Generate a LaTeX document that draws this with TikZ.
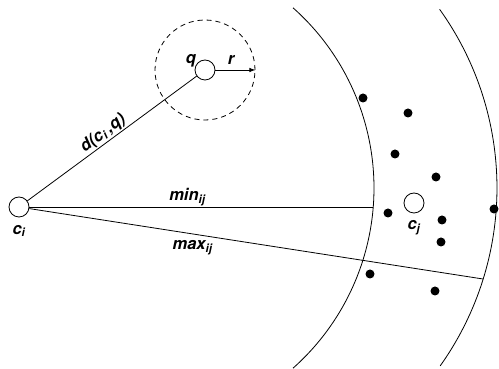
\documentclass[tikz,border=0pt]{standalone}
\usepackage{fontspec}
\setsansfont{TeX Gyre Heros}
\usetikzlibrary{arrows.meta}
\definecolor{inkcol}{RGB}{0,0,0}
\definecolor{paper}{RGB}{255,255,255}

\begin{document}
\begin{tikzpicture}[
  x=1pt, y=1pt,
  centre/.style={
    draw=inkcol, line width=0.8pt, circle, fill=paper,
    minimum size=20pt, inner sep=0pt
  },
  ball/.style={
    draw=inkcol, line width=0.8pt, circle, dash pattern=on 5pt off 4pt,
    minimum size=100pt, inner sep=0pt
  },
  obj/.style={circle, fill=inkcol, minimum size=9pt, inner sep=0pt},
  lab/.style={font=\sffamily\bfseries\itshape\fontsize{16.5}{18}\selectfont, text=inkcol, inner sep=1pt},
  edge/.style={draw=inkcol, line width=0.8pt},
  ray/.style={draw=inkcol, line width=0.8pt, -{Latex[length=6pt,width=4.5pt]}},
  ring/.style={draw=inkcol, line width=0.8pt}
]
\useasboundingbox (0,0) rectangle (499,369);

%% ===================== Range arcs ===============================
\draw[ring] (133,181) ++(48.4:241pt) arc[start angle=48.4, end angle=-48.4, radius=241pt];
\draw[ring] (190,181) ++(35.6:307pt) arc[start angle=35.6, end angle=-35.4, radius=307pt];

%% ===================== Query ball ===============================
\node[ball]   (qball) at (205,299) {};
\node[centre] (q)     at (205,299) {};
\node[lab]    (lq)    at (191,308) {q};
\node[lab]    (lr)    at (231,309) {r};

%% ===================== Cluster centres ==========================
\node[centre] (ci) at (19,162) {};
\node[lab]    (lci) at (19,138) {c\textsubscript{i}};
\node[centre] (cj) at (414,166) {};
\node[lab]    (lcj) at (414,141) {c\textsubscript{j}};

\coordinate (minend) at (373,162);
\coordinate (maxend) at (483,90);

%% ===================== Distances ================================
\draw[edge] (ci) -- node[lab, sloped, above=0pt, pos=0.48] (ldist) {d(c\textsubscript{i}\hspace{3pt},q)} (q);
\draw[edge] (ci) -- node[lab, above=0pt, pos=0.46] (lmin) {min\textsubscript{ij}} (minend);
\draw[edge] (ci) -- node[lab, below=5pt, pos=0.36] (lmax) {max\textsubscript{ij}} (maxend);
\draw[ray]  (q) -- (qball.east);

%% ===================== Objects of cluster j =====================
\node[obj] (p1)  at (363,271) {};
\node[obj] (p2)  at (408,256) {};
\node[obj] (p3)  at (395,215) {};
\node[obj] (p4)  at (436,192) {};
\node[obj] (p5)  at (388,156) {};
\node[obj] (p6)  at (442,149) {};
\node[obj] (p7)  at (441,127) {};
\node[obj] (p8)  at (370,95)  {};
\node[obj] (p9)  at (435,78)  {};
\node[obj] (p10) at (494,160) {};

\end{tikzpicture}
\end{document}
